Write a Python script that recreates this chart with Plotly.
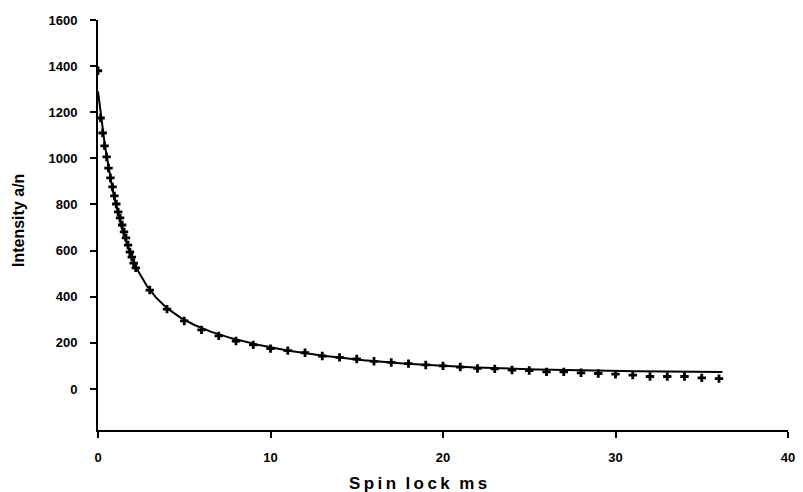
import numpy as np
import plotly.graph_objects as go

# Measured spin-lock decay: time (ms) and intensity (a/n)
spin_lock_ms = [0.0, 0.15, 0.27, 0.38, 0.5, 0.61, 0.72, 0.84, 0.95, 1.06, 1.17,
                1.28, 1.4, 1.51, 1.62, 1.74, 1.85, 1.96, 2.07, 2.19,
                3, 4, 5, 6, 7, 8, 9, 10, 11, 12, 13, 14, 15, 16, 17, 18, 19,
                20, 21, 22, 23, 24, 25, 26, 27, 28, 29, 30, 31, 32, 33, 34, 35, 36]
intensity = [1380, 1175, 1110, 1054, 1006, 958, 915, 876, 837, 802, 768,
             742, 711, 681, 655, 624, 594, 572, 546, 525,
             429, 346, 295, 256, 230, 208, 191, 175, 166, 157, 143, 137, 130,
             120, 115, 110, 104, 100, 95, 89, 87, 82, 80, 74, 74, 70, 67, 64,
             60, 54, 54, 54, 48, 45]

# Bi-exponential fit parameters: A1*exp(-t/T1) + A2*exp(-t/T2) + C
fit_A1, fit_T1 = 817.0, 1.34
fit_A2, fit_T2 = 403.0, 7.7
fit_C = 70.0
fit_t_end = 36.2

t_fit = np.linspace(0, fit_t_end, 400)
y_fit = fit_A1 * np.exp(-t_fit / fit_T1) + fit_A2 * np.exp(-t_fit / fit_T2) + fit_C

fig = go.Figure()
fig.add_trace(go.Scatter(
    x=t_fit, y=y_fit, mode="lines",
    line=dict(color="black", width=2), hoverinfo="skip", showlegend=False))
fig.add_trace(go.Scatter(
    x=spin_lock_ms, y=intensity, mode="markers",
    marker=dict(symbol="cross", size=7, color="black"), showlegend=False))

tick_font = dict(family="Liberation Sans, Arial, sans-serif", size=13, color="black", weight="bold")

# x title drawn with thin spaces between letters for a wide, tracked look
x_title = "\u2009".join("Spin") + "  " + "\u2009".join("lock") + "  " + "\u2009".join("ms")

fig.update_layout(
    width=803, height=492,
    margin=dict(l=98, r=8, t=20, b=62),
    paper_bgcolor="white", plot_bgcolor="white",
    xaxis=dict(range=[0, 40], tickvals=[0, 10, 20, 30, 40], showgrid=False,
               zeroline=False, showline=True, linecolor="black", linewidth=2,
               ticks="outside", ticklen=6, tickwidth=1.5, tickcolor="black",
               tickfont=tick_font, ticklabelstandoff=8),
    yaxis=dict(range=[-178, 1600], tickvals=[0, 200, 400, 600, 800, 1000, 1200, 1400, 1600],
               showgrid=False, zeroline=False, showline=True, linecolor="black",
               linewidth=2, ticks="outside", ticklen=6, tickwidth=1.5,
               tickcolor="black", tickfont=tick_font, ticklabelstandoff=10),
    annotations=[
        dict(text=x_title, x=0.5, y=0, xref="paper", yref="paper",
             xanchor="center", yanchor="middle", yshift=-53, xshift=-25,
             showarrow=False,
             font=dict(family="Liberation Sans, Arial, sans-serif", size=17,
                       color="black", weight="bold")),
        dict(text="Intensity a/n", x=0, y=0.5, xref="paper", yref="paper",
             xanchor="center", yanchor="middle", xshift=-80, yshift=4,
             textangle=-90, showarrow=False,
             font=dict(family="Liberation Sans, Arial, sans-serif", size=16,
                       color="black", weight="bold")),
    ],
)

fig.write_html("out.html")
